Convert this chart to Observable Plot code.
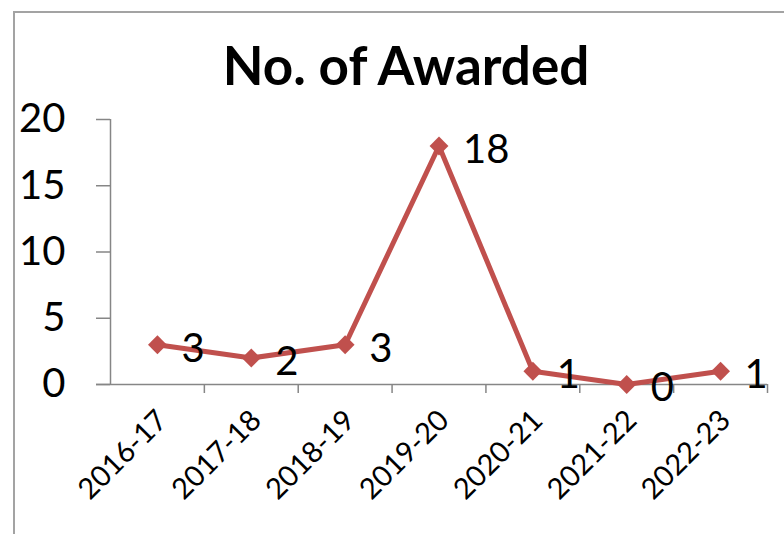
<!DOCTYPE html>
<html>
<head>
<meta charset="utf-8">
<script src="https://cdn.jsdelivr.net/npm/d3@7"></script>
<script src="https://cdn.jsdelivr.net/npm/@observablehq/plot@0.6"></script>
<style>
  html, body { margin: 0; padding: 0; background: #fff; overflow: hidden; }
  #wrap { position: relative; width: 784px; height: 534px; overflow: hidden; }
  #frame { position: absolute; left: 13px; top: 11px; width: 820px; height: 600px; border: 2px solid #a3a3a3; box-sizing: border-box; }
  #title { position: absolute; left: 0; width: 812px; top: 35px; text-align: center; font-family: Lato, sans-serif; font-weight: bold; font-size: 53px; line-height: 60px; color: #000; }
  #chart { position: absolute; left: 0; top: 0; }
</style>
</head>
<body>
<div id="wrap">
  <div id="frame"></div>
  <div id="chart"></div>
  <div id="title">No. of Awarded</div>
</div>
<script>
const categories = ["2016-17", "2017-18", "2018-19", "2019-20", "2020-21", "2021-22", "2022-23"];
const awarded = [3, 2, 3, 18, 1, 0, 1];
const yTicks = [0, 5, 10, 15, 20];

const data = categories.map((c, i) => ({i: i + 0.5, cat: c, v: awarded[i]}));
const color = "#C0504D";
const axisGray = "#868686";

const chart = Plot.plot({
  width: 784,
  height: 534,
  marginLeft: 110,
  marginRight: 17,
  marginTop: 119,
  marginBottom: 150,
  style: {fontFamily: "Lato, sans-serif", background: "transparent", overflow: "visible"},
  x: {type: "linear", domain: [0, categories.length]},
  y: {domain: [0, 20]},
  marks: [
    Plot.ruleX([0], {y1: 0, y2: 20, stroke: axisGray, strokeWidth: 1.5}),
    Plot.ruleY([0], {stroke: axisGray, strokeWidth: 1.5, insetLeft: -14}),
    Plot.axisY({ticks: yTicks, tickSize: 14, tickPadding: 31, stroke: axisGray, strokeWidth: 1.5, fill: "black", fontSize: 40, label: null}),
    Plot.axisX({ticks: d3.range(1, categories.length + 1), tickSize: 9, stroke: axisGray, strokeWidth: 1.5, tickFormat: () => "", label: null}),
    Plot.axisX({ticks: data.map(d => d.i), tickSize: 0, tickPadding: 31, dx: 5, tickRotate: -45, tickFormat: (d) => categories[Math.round(d - 0.5)], fill: "black", fontSize: 29, label: null}),
    Plot.line(data, {x: "i", y: "v", stroke: color, strokeWidth: 5}),
    Plot.dot(data, {x: "i", y: "v", symbol: "diamond2", r: 8.5, fill: color, stroke: "none"}),
    Plot.text(data, {x: "i", y: "v", text: d => String(d.v), dx: 24, dy: 4, textAnchor: "start", fontSize: 40, fill: "black"})
  ]
});
document.getElementById("chart").appendChild(chart);
</script>
</body>
</html>
